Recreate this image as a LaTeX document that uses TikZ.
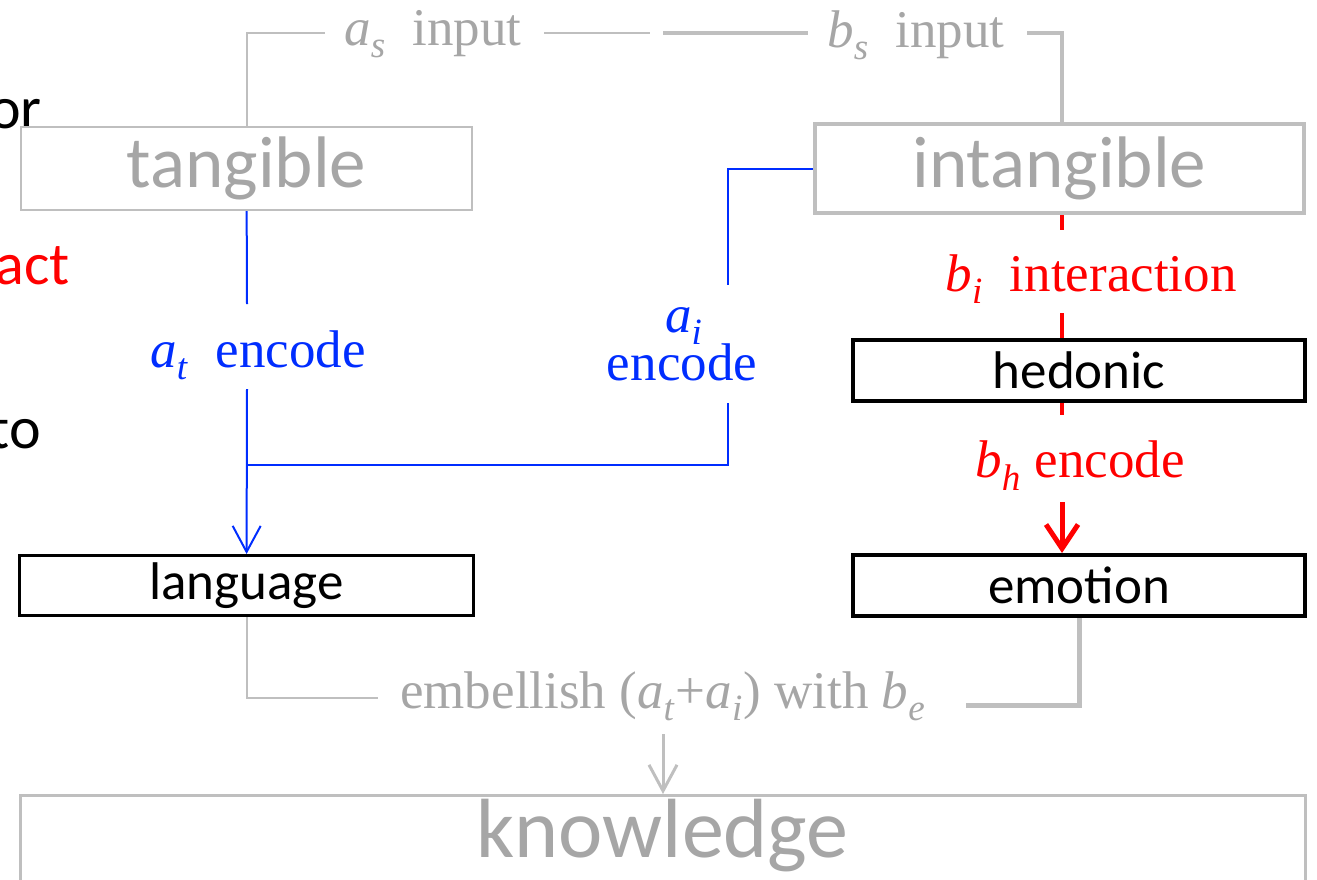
\documentclass[tikz,border=0pt]{standalone}
\usepackage{fontspec}
\setmainfont{Liberation Serif}
\newfontfamily\boxfont{Carlito}
\usepackage{xcolor}
\usepackage{tikz}
\usetikzlibrary{arrows.meta,positioning}

\definecolor{linegray}{RGB}{191,191,191}
\definecolor{textgray}{RGB}{166,166,166}
\definecolor{codeblue}{RGB}{0,45,255}
\definecolor{codered}{RGB}{255,0,0}
\newcommand{\vsub}[2]{\textit{#1}\raisebox{-0.09em}{\textsubscript{\textit{#2}}}}

\begin{document}
\begin{tikzpicture}[
    x=0.5pt, y=-0.5pt,
    box/.style={rectangle, draw, fill=white, inner sep=0pt, minimum width=226pt, minimum height=30.5pt, line width=2pt, font=\boxfont\fontsize{26.5pt}{30pt}\selectfont},
    graybox/.style={box, draw=linegray, text=textgray, font=\boxfont\fontsize{36.5pt}{40pt}\selectfont},
    tag/.style={inner sep=0pt, anchor=base, font=\fontsize{26.5pt}{30pt}\selectfont},
    edge/.style={inner sep=0pt, anchor=base east, font=\boxfont\fontsize{30pt}{34pt}\selectfont},
    thingray/.style={draw=linegray, line width=1pt},
    thickgray/.style={draw=linegray, line width=2.2pt},
    blueline/.style={draw=codeblue, line width=1pt},
    redline/.style={draw=codered, line width=2pt},
    arrow/.style={-{Straight Barb[length=13pt, width=14pt]}},
    redarrow/.style={-{Straight Barb[length=12pt, width=16pt]}}
]
    \useasboundingbox (0,0) rectangle (1317,879);
    \clip (0,0) rectangle (1317,879);

    \node[edge] (or) at (42,128) {or};
    \node[edge, text=codered] (act) at (70,284) {act};
    \node[edge] (to) at (41,448) {to};

    \node[graybox, line width=1.2pt, minimum width=225.5pt, minimum height=41.5pt] (tangible) at (246.5,168.5) {tangible};
    \node[graybox, minimum width=244.5pt, minimum height=44.5pt] (intangible) at (1059.5,168.5) {intangible};
    \node[box] (hedonic) at (1079,370.5) {hedonic};
    \node[box, line width=1.5pt, minimum width=227pt, minimum height=30pt] (language) at (246.5,585.5) {language};
    \node[box] (emotion) at (1079,585.5) {emotion};
    \node[graybox, line width=1.5pt, anchor=north, minimum width=642.5pt, inner ysep=2pt, text height=29pt, text depth=80pt, font=\boxfont\fontsize{42pt}{46pt}\selectfont] (knowledge) at (662.5,794) {knowledge};

    \node[tag, text=textgray] (asin) at (433,45) {\vsub{a}{s}~ input};
    \node[tag, text=textgray] (bsin) at (916,47) {\vsub{b}{s}~ input};
    \node[tag, text=codeblue] (atenc) at (258,367) {\vsub{a}{t}~ encode};
    \node[tag, text=codeblue] (ai) at (684,332) {\vsub{a}{i}};
    \node[tag, text=codeblue] (aienc) at (682,380) {encode};
    \node[tag, text=codered] (biint) at (1091,291) {\vsub{b}{i}~ interaction};
    \node[tag, text=codered] (bhenc) at (1080,477) {\vsub{b}{h} encode};
    \node[tag, text=textgray] (embel) at (663,708) {embellish (\vsub{a}{t}+\vsub{a}{i}) with \vsub{b}{e}};

    \coordinate (asL) at (325,33);
    \coordinate (asR) at (544,33);
    \coordinate (midL) at (650,33);
    \coordinate (midR) at (663,33);
    \coordinate (bsL) at (808,33);
    \coordinate (bsR) at (1027,33);
    \coordinate (atT) at (247,304);
    \coordinate (atB) at (247,389);
    \coordinate (aiT) at (728,285);
    \coordinate (aiB) at (728,403);
    \coordinate (join) at (247,465);
    \coordinate (biT) at (1062,230);
    \coordinate (biB) at (1062,313);
    \coordinate (bhT) at (1062,415);
    \coordinate (bhB) at (1062,502);
    \coordinate (emL) at (378,698);
    \coordinate (emR) at (966,705);
    \coordinate (embB) at (663,734);

    \draw[thingray] (tangible.north) |- (asL);
    \draw[thingray] (asR) -- (midL);
    \draw[thickgray] (midR) -- (bsL);
    \draw[thickgray] (bsR) -| (bsR -| biT) -- (biT |- intangible.north);

    \draw[blueline] (tangible) -- (atT);
    \draw[blueline, arrow] (atB) -- (language);
    \draw[blueline] (intangible.west) -| (aiT);
    \draw[blueline] (aiB) |- (join);

    \draw[redline] (biT |- intangible.south) -- (biT);
    \draw[redline] (biB) -- (biB |- hedonic.north);
    \draw[redline] (bhT |- hedonic.south) -- (bhT);
    \draw[redline, line width=2.5pt, redarrow] (bhB) -- (bhB |- emotion.north);

    \draw[thingray] (language.south) |- (emL);
    \draw[thickgray, line width=2.5pt] (emotion.south) |- (emR);
    \draw[thingray, line width=1.5pt, arrow] (embB) -- (embB |- knowledge.north);
\end{tikzpicture}
\end{document}
